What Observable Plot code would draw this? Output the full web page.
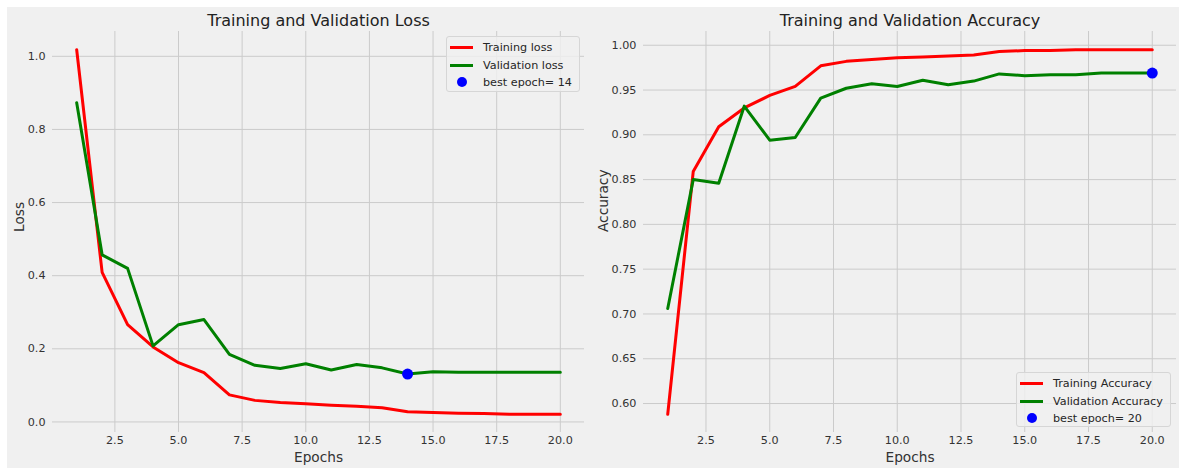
<!DOCTYPE html>
<html>
<head>
<meta charset="utf-8">
<script src="https://cdn.jsdelivr.net/npm/d3@7"></script>
<script src="https://cdn.jsdelivr.net/npm/@observablehq/plot@0.6"></script>
<style>
  html, body { margin: 0; padding: 0; background: #fff; }
  #fig { position: relative; width: 1179px; height: 468px; background: #fff; overflow: hidden;
         font-family: "DejaVu Sans", sans-serif; }
  #bg { position: absolute; left: 7px; top: 7px; right: 0; bottom: 0; background: #f0f0f0; }
  .panel { position: absolute; top: 0; }
  .legend { position: absolute; border: 1px solid #d6d6d6; border-radius: 3px; background: rgba(240,240,240,0.8);
            font-size: 11.2px; color: #262626; padding: 2px 6px 2px 3px; box-sizing: border-box; }
  .legend .row { display: flex; align-items: center; height: 17.4px; }
  .legend .sw { width: 23px; height: 14px; position: relative; margin-right: 10px; }
  .legend .ln { position: absolute; left: 0; right: 0; top: 5.5px; height: 3px; }
  .legend .dot { position: absolute; left: 6.5px; top: 2px; width: 10px; height: 10px; border-radius: 50%; background: #0000ff; }
</style>
</head>
<body>
<div id="fig">
  <div id="bg"></div>
  <div id="left" class="panel" style="left:0px"></div>
  <div id="right" class="panel" style="left:590px"></div>
</div>
<script>
// Training history, one value per epoch
const epochs = [1, 2, 3, 4, 5, 6, 7, 8, 9, 10, 11, 12, 13, 14, 15, 16, 17, 18, 19, 20];
const trainLoss = [1.018, 0.409, 0.266, 0.205, 0.162, 0.135, 0.074, 0.059, 0.053, 0.050,
                   0.046, 0.043, 0.039, 0.028, 0.026, 0.024, 0.023, 0.021, 0.021, 0.021];
const valLoss = [0.873, 0.457, 0.420, 0.208, 0.266, 0.280, 0.185, 0.155, 0.146, 0.159,
                 0.142, 0.157, 0.148, 0.131, 0.137, 0.136, 0.136, 0.136, 0.136, 0.136];
const trainAcc = [0.588, 0.859, 0.909, 0.930, 0.944, 0.954, 0.977, 0.982, 0.984, 0.986,
                  0.987, 0.988, 0.989, 0.993, 0.994, 0.994, 0.995, 0.995, 0.995, 0.995];
const valAcc = [0.706, 0.850, 0.846, 0.932, 0.894, 0.897, 0.941, 0.952, 0.957, 0.954,
                0.961, 0.956, 0.960, 0.968, 0.966, 0.967, 0.967, 0.969, 0.969, 0.969];
const bestLossEpoch = 14;
const bestAccEpoch = 20;

const xTicks = [2.5, 5.0, 7.5, 10.0, 12.5, 15.0, 17.5, 20.0];
const lossTicks = [0.0, 0.2, 0.4, 0.6, 0.8, 1.0];
const accTicks = [0.60, 0.65, 0.70, 0.75, 0.80, 0.85, 0.90, 0.95, 1.00];

const FONT = "DejaVu Sans";
const GRID = "#cbcbcb";

// matplotlib-style 5% autoscale margins
function padded(values) {
  const [lo, hi] = d3.extent(values);
  const m = (hi - lo) * 0.05;
  return [lo - m, hi + m];
}

function panel({title, yLabel, labelX, train, val, bestEpoch, yTicks, yFormat, width, marginLeft, marginRight}) {
  const rows = epochs.map((e, i) => ({epoch: e, train: train[i], val: val[i]}));
  const best = rows.filter(d => d.epoch === bestEpoch);
  return Plot.plot({
    width, height: 468,
    marginTop: 31, marginBottom: 36, marginLeft, marginRight,
    style: {background: "transparent", fontFamily: FONT, fontSize: "11.2px", color: "#333"},
    x: {domain: padded(epochs)},
    y: {domain: padded([...train, ...val])},
    marks: [
      Plot.gridX(xTicks, {stroke: GRID, strokeOpacity: 1, strokeWidth: 1}),
      Plot.gridY(yTicks, {stroke: GRID, strokeOpacity: 1, strokeWidth: 1}),
      Plot.axisX(xTicks, {tickSize: 0, tickPadding: 4, tickFormat: d3.format(".1f"), label: null}),
      Plot.axisY(yTicks, {tickSize: 0, tickPadding: 7, tickFormat: d3.format(yFormat), label: null}),
      Plot.line(rows, {x: "epoch", y: "train", stroke: "#ff0000", strokeWidth: 3}),
      Plot.line(rows, {x: "epoch", y: "val", stroke: "#008000", strokeWidth: 3}),
      Plot.dot(best, {x: "epoch", y: "val", r: 5.5, fill: "#0000ff"}),
      Plot.text([title], {frameAnchor: "top", lineAnchor: "middle", dy: -11, fontSize: 16, fill: "#222"}),
      Plot.text(["Epochs"], {frameAnchor: "bottom", lineAnchor: "middle", dy: 25, fontSize: 13.7, fill: "#333"}),
      Plot.text([yLabel], {frameAnchor: "left", lineAnchor: "middle", dx: labelX - marginLeft, rotate: -90, fontSize: 13.7, fill: "#333"})
    ]
  });
}

function legend(items, style) {
  const box = document.createElement("div");
  box.className = "legend";
  Object.assign(box.style, style);
  for (const it of items) {
    const row = document.createElement("div");
    row.className = "row";
    const sw = document.createElement("div");
    sw.className = "sw";
    const mark = document.createElement("div");
    if (it.dot) { mark.className = "dot"; }
    else { mark.className = "ln"; mark.style.background = it.color; }
    sw.appendChild(mark);
    const label = document.createElement("span");
    label.textContent = it.label;
    row.appendChild(sw);
    row.appendChild(label);
    box.appendChild(row);
  }
  return box;
}

document.getElementById("left").appendChild(panel({
  title: "Training and Validation Loss", yLabel: "Loss", labelX: 19,
  train: trainLoss, val: valLoss, bestEpoch: bestLossEpoch,
  yTicks: lossTicks, yFormat: ".1f", width: 590, marginLeft: 52, marginRight: 6
}));
document.getElementById("right").appendChild(panel({
  title: "Training and Validation Accuracy", yLabel: "Accuracy", labelX: 13,
  train: trainAcc, val: valAcc, bestEpoch: bestAccEpoch,
  yTicks: accTicks, yFormat: ".2f", width: 589, marginLeft: 53, marginRight: 3
}));

const fig = document.getElementById("fig");
fig.appendChild(legend([
  {label: "Training loss", color: "#ff0000"},
  {label: "Validation loss", color: "#008000"},
  {label: `best epoch= ${bestLossEpoch}`, dot: true}
], {left: "446px", top: "36px", width: "134px", height: "56px"}));
fig.appendChild(legend([
  {label: "Training Accuracy", color: "#ff0000"},
  {label: "Validation Accuracy", color: "#008000"},
  {label: `best epoch= ${bestAccEpoch}`, dot: true}
], {left: "1016px", top: "372px", width: "155px", height: "55px"}));
</script>
</body>
</html>
